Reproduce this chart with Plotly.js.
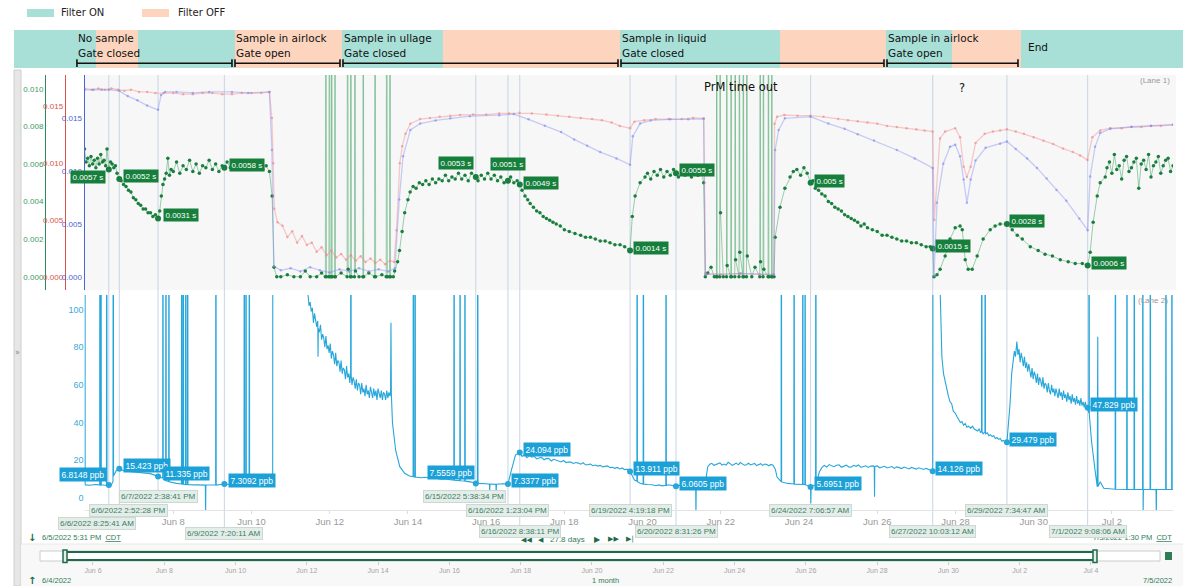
<!DOCTYPE html>
<html><head><meta charset="utf-8">
<script src="https://cdn.plot.ly/plotly-3.0.1.min.js"></script>
<style>html,body{margin:0;padding:0;background:#fff;overflow:hidden}#chart{width:1183px;height:586px}</style>
</head><body><div id="chart"></div>
<script>
// ---------------- DATA ----------------
const viewStart = '2022-06-05 17:31', viewEnd = '2022-07-03 13:30';
const bandRange = ['2022-06-03 22:15', '2022-07-03 19:38'];
const navRange = ['2022-06-04 12:19', '2022-07-05 22:28'];
const axisTicks = ['06-08','06-10','06-12','06-14','06-16','06-18','06-20','06-22','06-24','06-26','06-28','06-30','07-02'];

const filterStarts = ['06-03 22:15','06-06 00:34','06-07 02:20','06-09 13:52','06-12 07:31','06-14 21:30','06-19 10:08','06-23 12:19','06-26 05:21','06-27 21:52','06-29 16:12'];
const filterEnds   = ['06-06 00:34','06-07 02:20','06-09 13:52','06-12 07:31','06-14 21:30','06-19 10:08','06-23 12:19','06-26 05:21','06-27 21:52','06-29 16:12','07-03 19:38'];
const filterState  = ['ON','OFF','ON','OFF','ON','OFF','ON','OFF','ON','OFF','ON'];

const stageStarts = ['06-05 12:52','06-09 13:52','06-12 08:08','06-19 10:45','06-26 05:59'];
const stageEnds   = ['06-09 12:01','06-12 06:18','06-19 08:54','06-26 04:08','06-29 14:22'];
const stageLine1  = ['No sample','Sample in airlock','Sample in ullage','Sample in liquid','Sample in airlock'];
const stageLine2  = ['Gate closed','Gate open','Gate closed','Gate closed','Gate open'];
const endLabel = {t: '06-29 19:15', text: 'End'};

const cursorTimes = ['06-06 08:25:41','06-06 14:52:28','06-07 14:38:41','06-09 07:20:11','06-15 17:38:34','06-16 13:23:04','06-16 20:38:11','06-19 16:19:18','06-20 20:31:26','06-24 07:06:57','06-27 10:03:12','06-29 07:34:47','07-01 09:08:06'];
const cursorText  = ['6/6/2022 8:25:41 AM','6/6/2022 2:52:28 PM','6/7/2022 2:38:41 PM','6/9/2022 7:20:11 AM','6/15/2022 5:38:34 PM','6/16/2022 1:23:04 PM','6/16/2022 8:38:11 PM','6/19/2022 4:19:18 PM','6/20/2022 8:31:26 PM','6/24/2022 7:06:57 AM','6/27/2022 10:03:12 AM','6/29/2022 7:34:47 AM','7/1/2022 9:08:06 AM'];
const tauAtCursor = [0.0057,0.0052,0.0031,0.0058,0.0053,0.0051,0.0049,0.0014,0.0055,0.005,0.0015,0.0028,0.0006];
const ppbAtCursor = [6.8148,15.423,11.335,7.3092,7.5559,7.3377,24.094,13.911,6.0605,5.6951,14.126,29.479,47.829];

// Lane 1 – green (electron lifetime, s)
const tauSeries = [
['06-05 17:31',0.0068],['06-05 18:30',0.0061],['06-05 19:30',0.0063],['06-05 20:30',0.0059],['06-05 21:30',0.0064],['06-05 22:30',0.0060],['06-05 23:30',0.0062],['06-06 00:30',0.0058],['06-06 01:30',0.0063],['06-06 02:30',0.0060],['06-06 03:30',0.0065],['06-06 04:30',0.0061],['06-06 05:30',0.0062],['06-06 06:30',0.0059],['06-06 07:20',0.0068],['06-06 08:25:41',0.0057],['06-06 09:30',0.0061],['06-06 10:30',0.0060],['06-06 11:30',0.0058],['06-06 12:30',0.0059],['06-06 13:30',0.0055],['06-06 14:52:28',0.0052],
['06-06 16:00',0.0051],['06-06 17:30',0.0049],['06-06 19:00',0.0048],['06-06 20:30',0.0046],['06-06 22:00',0.0045],['06-06 23:30',0.0042],['06-07 01:00',0.0041],['06-07 02:30',0.0039],['06-07 04:00',0.0038],['06-07 05:30',0.0036],['06-07 07:00',0.0036],['06-07 08:30',0.0034],['06-07 10:00',0.0034],['06-07 11:30',0.0032],['06-07 13:00',0.0033],['06-07 14:38:41',0.0031],
['06-07 15:40',0.0035],['06-07 16:40',0.0043],['06-07 17:40',0.0049],['06-07 18:40',0.0052],['06-07 19:40',0.0055],['06-07 20:40',0.0063],['06-07 21:40',0.0054],['06-07 22:40',0.0057],
['06-08 00:00',0.0056],['06-08 02:00',0.0061],['06-08 04:00',0.0055],['06-08 06:00',0.0059],['06-08 08:00',0.0057],['06-08 10:00',0.0062],['06-08 12:00',0.0056],['06-08 14:00',0.0060],['06-08 16:00',0.0055],['06-08 18:00',0.0059],['06-08 20:00',0.0058],['06-08 22:00',0.0062],['06-09 00:00',0.0057],['06-09 02:00',0.0060],['06-09 04:00',0.0056],['06-09 06:00',0.0059],['06-09 07:20:11',0.0058],['06-09 09:00',0.0061],['06-09 11:00',0.0058],['06-09 13:00',0.0061],['06-09 15:00',0.0057],['06-09 17:00',0.0060],['06-09 19:00',0.0058],['06-09 21:00',0.0061],['06-09 23:00',0.0057],['06-10 01:00',0.0060],['06-10 03:00',0.0058],['06-10 05:00',0.0061],['06-10 07:00',0.0057],['06-10 09:00',0.0059],['06-10 11:00',0.0056],
['06-10 12:40',0.0043],['06-10 13:50',0.0005],['06-10 15:30',0.0000],
['06-10 18:00',0.0000],['06-10 22:00',0.0001],['06-11 02:00',0.0000],['06-11 06:00',0.0000],['06-11 09:00',0.0003],['06-11 12:00',0.0000],['06-11 16:00',0.0000],['06-11 19:00',0.0002],
['06-11 21:20',0.0000],['06-11 21:40',0.03],['06-11 22:00',0.0000],['06-11 23:30',0.0000],['06-11 23:50',0.03],['06-12 00:10',0.0000],['06-12 01:00',0.0000],['06-12 01:15',0.03],['06-12 01:30',0.0000],['06-12 03:00',0.0000],['06-12 03:15',0.03],['06-12 03:30',0.0000],['06-12 07:00',0.0002],['06-12 10:40',0.0000],['06-12 11:00',0.03],['06-12 11:20',0.0004],['06-12 12:40',0.0000],['06-12 13:00',0.03],['06-12 13:20',0.0000],['06-12 15:10',0.0000],['06-12 15:30',0.03],['06-12 15:50',0.0003],['06-12 18:00',0.0000],['06-12 20:20',0.0000],['06-12 20:35',0.03],['06-12 20:50',0.0000],['06-13 00:00',0.0002],['06-13 03:30',0.0000],['06-13 03:50',0.03],['06-13 04:10',0.0000],['06-13 08:00',0.0001],['06-13 10:40',0.0000],['06-13 11:00',0.03],['06-13 11:20',0.0000],['06-13 12:40',0.0000],['06-13 13:00',0.03],['06-13 13:20',0.0000],['06-13 15:00',0.0000],
['06-13 15:50',0.0003],['06-13 17:40',0.0008],['06-13 18:50',0.0014],['06-13 20:25',0.0024],['06-13 22:00',0.0034],['06-14 00:00',0.0041],['06-14 01:20',0.0045],['06-14 03:10',0.0048],['06-14 05:00',0.0047],['06-14 07:00',0.0050],['06-14 09:00',0.0049],['06-14 11:00',0.0051],['06-14 13:00',0.0049],['06-14 15:00',0.0052],['06-14 17:00',0.0050],['06-14 19:00',0.0052],['06-14 21:00',0.0051],['06-14 23:00',0.0054],['06-15 01:00',0.0051],['06-15 03:00',0.0053],['06-15 05:00',0.0052],['06-15 07:00',0.0055],['06-15 09:00',0.0052],['06-15 11:00',0.0054],['06-15 13:00',0.0051],['06-15 15:00',0.0055],['06-15 17:38:34',0.0053],['06-15 19:00',0.0051],['06-15 21:00',0.0054],['06-15 23:00',0.0052],['06-16 01:00',0.0055],['06-16 03:00',0.0052],['06-16 05:00',0.0054],['06-16 07:00',0.0051],['06-16 09:00',0.0053],['06-16 11:00',0.0050],['06-16 13:23:04',0.0051],['06-16 15:00',0.0053],['06-16 17:00',0.0050],['06-16 19:00',0.0051],['06-16 20:38:11',0.0049],
['06-16 22:00',0.0046],['06-16 23:50',0.0043],['06-17 01:30',0.0041],['06-17 03:00',0.0039],['06-17 05:00',0.0037],['06-17 07:00',0.0035],['06-17 09:00',0.0034],['06-17 11:00',0.0032],['06-17 13:00',0.0031],['06-17 15:00',0.0030],['06-17 17:00',0.0029],['06-17 19:00',0.0028],['06-17 21:30',0.0027],['06-18 00:00',0.0025],['06-18 03:00',0.0024],['06-18 06:30',0.0023],['06-18 10:00',0.0022],['06-18 13:00',0.0021],['06-18 16:00',0.0021],['06-18 19:00',0.0020],['06-18 22:00',0.0019],['06-19 01:00',0.0019],['06-19 04:00',0.0018],['06-19 07:00',0.0017],['06-19 10:10',0.0017],['06-19 13:00',0.0016],['06-19 16:19:18',0.0014],
['06-19 17:40',0.0032],['06-19 19:25',0.0043],['06-19 22:30',0.0050],['06-20 01:30',0.0053],['06-20 03:00',0.0055],['06-20 05:00',0.0052],['06-20 07:00',0.0056],['06-20 09:00',0.0054],['06-20 11:00',0.0057],['06-20 13:00',0.0053],['06-20 15:00',0.0056],['06-20 17:00',0.0054],['06-20 19:00',0.0057],['06-20 20:31:26',0.0055],['06-20 22:00',0.0053],['06-21 00:00',0.0056],['06-21 02:00',0.0054],['06-21 04:00',0.0057],['06-21 06:00',0.0053],['06-21 08:00',0.0055],['06-21 10:00',0.0054],['06-21 12:00',0.0056],['06-21 13:30',0.0050],['06-21 14:30',0.0000],
['06-21 16:00',0.0002],['06-21 18:00',0.0005],['06-21 20:00',0.0000],['06-21 21:20',0.0000],['06-21 21:30',0.03],['06-21 21:45',0.0000],['06-21 23:20',0.0000],['06-21 23:35',0.03],['06-21 23:50',0.0034],['06-22 01:30',0.0000],['06-22 03:30',0.0000],['06-22 03:40',0.03],['06-22 03:55',0.0006],['06-22 06:05',0.0000],['06-22 06:20',0.03],['06-22 06:35',0.0000],['06-22 08:35',0.0000],['06-22 08:50',0.03],['06-22 09:05',0.0009],['06-22 11:10',0.0000],['06-22 11:25',0.03],['06-22 11:40',0.0013],['06-22 13:35',0.0000],['06-22 13:50',0.03],['06-22 14:05',0.0000],['06-22 15:45',0.0000],['06-22 16:00',0.03],['06-22 16:15',0.0011],['06-22 19:00',0.0000],['06-22 21:00',0.0005],['06-22 23:55',0.0000],['06-23 00:10',0.03],['06-23 00:25',0.0008],['06-23 01:55',0.0000],['06-23 02:10',0.03],['06-23 02:25',0.0004],['06-23 05:00',0.0000],['06-23 05:15',0.03],['06-23 05:30',0.0000],['06-23 07:05',0.0000],['06-23 07:20',0.03],['06-23 07:35',0.0000],['06-23 08:40',0.0000],
['06-23 09:20',0.0021],['06-23 12:20',0.0037],['06-23 15:20',0.0047],['06-23 18:30',0.0053],['06-23 20:30',0.0056],['06-23 22:40',0.0057],['06-24 01:00',0.0054],['06-24 03:00',0.0058],['06-24 05:00',0.0055],['06-24 07:06:57',0.0050],['06-24 08:30',0.0051],['06-24 10:00',0.0047],
['06-24 12:00',0.0046],['06-24 14:00',0.0044],['06-24 16:00',0.0043],['06-24 18:00',0.0040],['06-24 20:00',0.0039],['06-24 22:00',0.0037],['06-25 00:00',0.0036],['06-25 02:00',0.0035],['06-25 04:00',0.0033],['06-25 06:00',0.0032],['06-25 08:00',0.0031],['06-25 10:00',0.0030],['06-25 12:00',0.0029],['06-25 14:00',0.0027],['06-25 16:00',0.0028],['06-25 18:00',0.0026],['06-25 21:00',0.0025],['06-26 00:00',0.0024],['06-26 03:00',0.0022],['06-26 06:00',0.0022],['06-26 09:00',0.0021],['06-26 12:00',0.0020],['06-26 15:00',0.0019],['06-26 18:00',0.0019],['06-26 21:00',0.0018],['06-27 00:00',0.0018],['06-27 03:00',0.0017],['06-27 06:00',0.0016],['06-27 08:30',0.0016],['06-27 10:03:12',0.0015],
['06-27 10:50',0.0000],['06-27 12:40',0.0001],['06-27 14:35',0.0004],['06-27 17:40',0.0011],['06-27 20:40',0.0020],['06-27 23:50',0.0026],['06-28 02:50',0.0027],['06-28 04:10',0.0025],['06-28 05:00',0.0018],['06-28 06:00',0.0009],['06-28 07:50',0.0004],['06-28 10:15',0.0004],['06-28 13:20',0.0011],['06-28 17:00',0.0020],['06-28 21:20',0.0025],['06-29 00:20',0.0027],['06-29 03:25',0.0028],['06-29 07:34:47',0.0028],['06-29 10:50',0.0025],['06-29 13:55',0.0022],['06-29 17:00',0.0020],['06-29 21:55',0.0016],['06-30 02:45',0.0014],['06-30 07:00',0.0012],['06-30 11:30',0.0011],['06-30 16:20',0.0009],['06-30 21:10',0.0008],['07-01 01:30',0.0007],['07-01 05:50',0.0007],['07-01 09:08:06',0.0006],
['07-01 10:40',0.0013],['07-01 12:30',0.0029],['07-01 15:00',0.0043],['07-01 16:50',0.0050],['07-01 19:55',0.0053],['07-01 21:00',0.0058],['07-01 22:30',0.0061],['07-02 00:00',0.0055],['07-02 01:30',0.0065],['07-02 03:00',0.0057],['07-02 04:30',0.0059],['07-02 06:00',0.0052],['07-02 07:30',0.0062],['07-02 09:00',0.0064],['07-02 10:30',0.0056],['07-02 12:00',0.0058],['07-02 13:30',0.0061],['07-02 15:00',0.0063],['07-02 16:30',0.0047],['07-02 18:00',0.0060],['07-02 19:30',0.0062],['07-02 21:00',0.0057],['07-02 22:30',0.0065],['07-03 00:00',0.0053],['07-03 01:30',0.0059],['07-03 03:00',0.0061],['07-03 04:30',0.0064],['07-03 06:00',0.0055],['07-03 07:30',0.0059],['07-03 09:00',0.0062],['07-03 10:30',0.0063],['07-03 12:00',0.0056],['07-03 13:30',0.0059]
];

// Lane 1 – red signal
const redSeries = [
['06-05 17:31',0.0166],['06-05 22:00',0.0165],['06-06 02:00',0.0166],['06-06 06:00',0.0165],['06-06 10:00',0.0166],['06-06 14:00',0.0165],['06-06 18:00',0.0164],['06-06 22:00',0.0165],['06-07 03:00',0.0163],['06-07 08:00',0.0163],['06-07 13:00',0.0162],['06-07 18:00',0.0162],['06-08 00:00',0.0162],['06-08 06:00',0.0161],['06-08 12:00',0.0161],['06-08 18:00',0.0162],['06-09 00:00',0.0162],['06-09 06:00',0.0161],['06-09 12:00',0.0161],['06-09 18:00',0.0162],['06-10 00:00',0.0162],['06-10 06:00',0.0162],['06-10 11:00',0.0163],
['06-10 12:30',0.0140],['06-10 13:20',0.0100],['06-10 14:00',0.0060],['06-10 16:00',0.0048],['06-10 19:00',0.0045],['06-10 22:00',0.0035],['06-11 01:00',0.0040],['06-11 04:00',0.0030],['06-11 07:00',0.0036],['06-11 10:00',0.0028],['06-11 13:00',0.0030],['06-11 16:00',0.0022],['06-11 19:00',0.0026],['06-11 22:00',0.0019],['06-12 01:00',0.0023],['06-12 04:00',0.0017],['06-12 07:00',0.0020],['06-12 10:00',0.0015],['06-12 13:00',0.0019],['06-12 16:00',0.0014],['06-12 19:00',0.0018],['06-12 22:00',0.0013],['06-13 01:00',0.0016],['06-13 04:00',0.0012],['06-13 07:00',0.0015],['06-13 10:00',0.0011],['06-13 13:00',0.0014],['06-13 15:30',0.0013],
['06-13 17:00',0.0041],['06-13 19:00',0.0100],['06-13 20:30',0.0115],['06-13 22:30',0.0126],['06-14 01:30',0.0135],['06-14 07:30',0.0139],['06-14 13:30',0.0140],['06-14 19:30',0.0141],['06-15 02:00',0.0142],['06-15 08:00',0.01426],['06-15 16:00',0.0143],['06-16 00:00',0.0143],['06-16 08:00',0.0144],['06-16 14:00',0.0144],['06-16 20:30',0.01446],['06-17 04:00',0.0144],['06-17 13:00',0.0143],['06-17 20:00',0.0142],['06-18 03:00',0.0141],['06-18 10:00',0.0140],['06-18 17:00',0.0139],['06-18 23:00',0.0138],['06-19 05:00',0.0136],['06-19 10:00',0.0133],['06-19 16:19',0.0131],['06-19 19:00',0.01367],['06-20 01:00',0.0138],['06-20 08:00',0.0139],['06-20 16:00',0.0139],['06-21 00:00',0.0139],['06-21 07:00',0.0140],['06-21 13:30',0.01397],
['06-21 14:30',0.0003],['06-22 00:00',0.0002],['06-22 12:00',0.0003],['06-23 00:00',0.0002],['06-23 08:30',0.0002],
['06-23 09:00',0.0135],['06-23 10:30',0.0141],['06-23 15:00',0.01426],['06-23 23:00',0.0142],['06-24 07:00',0.0142],['06-24 15:00',0.0141],['06-25 00:00',0.0139],['06-25 06:00',0.0138],['06-25 12:00',0.0137],['06-25 18:00',0.0136],['06-26 00:00',0.0135],['06-26 06:00',0.0133],['06-26 12:00',0.0132],['06-26 18:00',0.0131],['06-27 00:00',0.0130],['06-27 05:00',0.0129],['06-27 10:00',0.0128],
['06-27 11:00',0.0050],['06-27 14:30',0.0122],['06-27 17:40',0.0128],['06-27 23:50',0.0131],['06-28 02:50',0.0123],['06-28 05:00',0.0097],['06-28 07:00',0.0088],['06-28 09:20',0.0097],['06-28 12:20',0.0118],['06-28 18:00',0.0126],['06-28 23:00',0.0128],['06-29 03:25',0.0129],['06-29 07:34',0.0130],['06-29 13:00',0.0128],['06-29 18:00',0.0126],['06-30 00:00',0.0123],['06-30 06:00',0.0120],['06-30 12:00',0.0117],['06-30 18:00',0.0113],['07-01 00:00',0.0110],['07-01 04:30',0.0107],['07-01 09:00',0.0103],
['07-01 12:00',0.0123],['07-01 16:50',0.0129],['07-01 23:00',0.0131],['07-02 06:00',0.0131],['07-02 12:00',0.0132],['07-02 18:00',0.0132],['07-03 00:00',0.0133],['07-03 06:00',0.0133],['07-03 13:30',0.0134]
];

// Lane 1 – blue signal
const blueSeries = [
['06-05 17:31',0.0177],['06-05 23:00',0.0177],['06-06 04:00',0.0177],['06-06 08:25',0.0177],['06-06 14:52',0.0176],['06-06 20:00',0.0171],['06-07 02:00',0.0167],['06-07 08:00',0.0162],['06-07 14:38',0.0158],['06-07 16:30',0.0172],['06-07 19:00',0.0175],['06-08 02:00',0.0175],['06-08 12:00',0.0174],['06-08 22:00',0.0175],['06-09 12:00',0.0175],['06-09 22:00',0.0174],['06-10 11:00',0.0175],
['06-10 12:30',0.0120],['06-10 13:40',0.0010],['06-10 18:00',0.0006],['06-11 00:00',0.0008],['06-11 06:00',0.0005],['06-11 12:00',0.0009],['06-11 18:00',0.0006],['06-12 00:00',0.0004],['06-12 06:00',0.0007],['06-12 12:00',0.0005],['06-12 18:00',0.0008],['06-13 00:00',0.0005],['06-13 06:00',0.0007],['06-13 12:00',0.0005],['06-13 16:00',0.0008],
['06-13 18:40',0.0073],['06-13 21:00',0.0114],['06-14 01:30',0.0139],['06-14 07:30',0.0145],['06-14 17:00',0.0148],['06-15 02:00',0.0150],['06-15 14:00',0.0152],['06-16 08:00',0.0153],['06-16 17:00',0.0154],['06-17 02:00',0.0149],['06-17 12:00',0.0143],['06-17 22:00',0.0137],['06-18 06:00',0.0130],['06-18 14:00',0.0124],['06-18 22:00',0.0118],['06-19 08:00',0.0112],['06-19 16:19',0.0106],
['06-19 18:00',0.0133],['06-19 22:30',0.0145],['06-20 05:00',0.0148],['06-20 17:00',0.0149],['06-21 04:00',0.0149],['06-21 13:30',0.01495],
['06-21 14:30',0.0002],['06-22 12:00',0.0003],['06-23 08:30',0.0002],
['06-23 09:20',0.0120],['06-23 11:30',0.0139],['06-23 15:20',0.0150],['06-24 07:06',0.01515],['06-24 18:00',0.0145],['06-25 04:00',0.0140],['06-25 12:00',0.0135],['06-25 22:00',0.0129],['06-26 12:00',0.0120],['06-26 23:00',0.0112],['06-27 10:00',0.0103],
['06-27 10:50',0.0001],['06-27 12:40',0.0070],['06-27 16:30',0.0107],['06-27 20:40',0.0123],['06-27 23:50',0.0125],['06-28 02:50',0.0114],['06-28 05:00',0.0092],['06-28 07:00',0.0070],['06-28 09:20',0.0092],['06-28 12:20',0.0110],['06-28 18:30',0.0122],['06-29 03:25',0.0126],['06-29 07:34',0.0128],['06-29 13:00',0.0121],['06-29 20:00',0.0112],['06-30 02:00',0.0103],['06-30 08:00',0.0093],['06-30 14:00',0.0082],['06-30 20:00',0.0072],['07-01 04:00',0.0055],['07-01 09:08',0.0044],
['07-01 10:40',0.0095],['07-01 13:40',0.0123],['07-01 16:50',0.0136],['07-01 23:00',0.0140],['07-02 12:00',0.0142],['07-03 00:00',0.0143],['07-03 13:30',0.0144]
];

// Lane 2 – impurity concentration (ppb); 300 / -10 are off-scale readings
const ppbSeries = [
['06-05 17:31',6.9],['06-05 17:45',6.9],['06-05 17:50',300],['06-05 17:55',6.8],['06-05 21:00',6.6],['06-06 00:00',7.0],['06-06 02:50',6.8],['06-06 03:00',300],['06-06 03:10',6.7],['06-06 03:30',6.7],['06-06 03:40',300],['06-06 03:50',6.9],['06-06 07:00',6.5],['06-06 07:10',300],['06-06 07:20',6.6],['06-06 08:25:41',6.8148],['06-06 09:30',6.0],['06-06 11:00',8.5],['06-06 11:10',300],['06-06 11:20',11.5],['06-06 13:00',14.5],['06-06 14:52:28',15.423],['06-06 18:00',14.2],['06-06 22:00',13.8],['06-07 04:00',13.2],['06-07 10:00',12.8],['06-07 14:38:41',11.335],['06-07 17:30',10.5],['06-07 17:40',300],['06-07 17:50',9.8],['06-07 19:20',9.2],['06-07 19:30',300],['06-07 19:40',9.0],['06-07 21:10',8.6],['06-07 21:20',300],['06-07 21:30',8.4],['06-08 02:00',7.6],['06-08 05:00',7.3],['06-08 05:10',300],['06-08 05:20',7.2],['06-08 06:00',7.2],['06-08 06:10',300],['06-08 06:20',7.1],['06-08 07:30',7.0],['06-08 07:40',300],['06-08 07:50',7.0],['06-08 08:40',7.1],['06-08 08:50',300],['06-08 09:00',6.9],['06-08 14:00',6.8],['06-08 19:40',6.7],['06-08 19:50',-10],['06-08 20:00',6.8],['06-09 02:00',6.9],['06-09 02:10',300],['06-09 02:20',6.7],['06-09 07:20:11',7.3092],['06-09 12:00',6.9],['06-09 19:25',6.8],['06-09 19:35',300],['06-09 19:45',6.7],['06-09 20:30',6.9],['06-09 20:40',300],['06-09 20:50',6.8],['06-09 22:30',6.6],['06-09 22:40',300],['06-09 22:50',6.8],['06-10 05:00',6.9],['06-10 13:00',6.8],['06-10 13:10',300],['06-11 10:00',300],
['06-11 10:40',108],['06-11 11:20',102],['06-11 12:00',104],['06-11 12:40',99],['06-11 13:20',101],['06-11 14:00',93],['06-11 14:40',98],['06-11 15:20',95],['06-11 16:00',91],['06-11 16:40',94],['06-11 16:50',75],['06-11 17:00',90],['06-11 17:40',88],['06-11 18:20',92],['06-11 19:00',84],['06-11 19:40',87],['06-11 20:20',85],['06-11 21:00',80],['06-11 21:40',86],['06-11 22:20',79],['06-11 23:00',81],['06-11 23:40',77],['06-12 00:20',82],['06-12 01:00',74],['06-12 01:40',78],['06-12 02:20',76],['06-12 03:00',71],['06-12 03:40',77],['06-12 04:20',70],['06-12 05:00',73],['06-12 05:40',72],['06-12 06:20',67],['06-12 07:00',73],['06-12 07:40',66],['06-12 08:20',69],['06-12 09:00',68],['06-12 09:40',63],['06-12 10:20',70],['06-12 11:00',64],['06-12 11:40',66],['06-12 12:20',61],['06-12 12:50',67],['06-12 13:00',300],['06-12 13:10',65],['06-12 13:40',60],['06-12 14:20',64],['06-12 15:00',62],['06-12 15:40',58],['06-12 16:20',63],['06-12 17:00',57],['06-12 17:40',61],['06-12 18:20',60],['06-12 19:00',55],['06-12 19:40',61],['06-12 20:20',56],['06-12 21:00',58],['06-12 21:40',54],['06-12 22:20',60],['06-12 23:00',55],['06-12 23:40',57],['06-13 00:20',53],['06-13 01:00',59],['06-13 01:40',56],['06-13 02:20',53],['06-13 03:00',58],['06-13 03:40',54],['06-13 04:20',57],['06-13 05:00',52],['06-13 05:40',58],['06-13 06:20',55],['06-13 07:00',53],['06-13 07:40',57],['06-13 08:20',52],['06-13 09:00',56],['06-13 09:40',55],['06-13 10:20',52],['06-13 11:00',57],['06-13 11:40',53],['06-13 12:20',56],['06-13 13:00',54],['06-13 13:20',56],['06-13 13:35',93],['06-13 13:50',55],
['06-13 14:30',40],['06-13 16:30',25],['06-13 19:00',16.5],['06-13 22:00',13],['06-14 01:00',11.5],['06-14 03:10',11.2],['06-14 03:20',300],['06-14 03:30',11.1],['06-14 04:15',11.0],['06-14 04:25',300],['06-14 04:35',11.0],['06-14 08:00',10.6],['06-14 11:00',10.9],['06-14 14:00',10.2],['06-14 17:00',10.4],['06-14 20:00',9.8],['06-14 23:00',10.0],['06-15 02:00',9.6],['06-15 04:10',9.4],['06-15 04:20',300],['06-15 04:30',9.3],['06-15 07:50',9.1],['06-15 08:00',300],['06-15 08:10',9.0],['06-15 10:50',8.9],['06-15 11:00',300],['06-15 11:10',8.8],['06-15 15:00',8.3],['06-15 17:38:34',7.5559],['06-15 18:40',7.8],['06-15 18:50',300],['06-15 19:00',7.6],['06-16 00:00',7.4],['06-16 02:00',7.2],['06-16 02:10',3.5],['06-16 02:20',7.3],['06-16 06:00',7.1],['06-16 06:10',2.0],['06-16 06:20',7.2],['06-16 10:00',7.4],['06-16 13:23:04',7.3377],
['06-16 15:30',14.7],['06-16 18:00',22.7],['06-16 20:38:11',24.094],['06-16 22:00',22.0],['06-16 23:30',23.0],['06-17 01:00',21.3],['06-17 02:30',22.4],['06-17 04:00',21.6],['06-17 05:30',22.0],['06-17 07:00',20.6],['06-17 08:30',21.1],['06-17 10:00',21.4],['06-17 11:30',20.2],['06-17 13:00',20.9],['06-17 14:30',20.8],['06-17 16:00',19.5],['06-17 17:30',20.4],['06-17 19:00',19.9],['06-17 20:30',19.3],['06-17 22:00',19.0],['06-17 23:30',19.8],['06-18 01:00',18.7],['06-18 02:30',19.0],['06-18 04:00',18.9],['06-18 05:30',18.2],['06-18 07:00',18.7],['06-18 08:30',18.4],['06-18 10:00',17.8],['06-18 11:30',18.6],['06-18 13:00',17.5],['06-18 14:30',17.6],['06-18 16:00',17.9],['06-18 17:30',17.0],['06-18 19:00',17.4],['06-18 20:30',16.8],['06-18 22:00',17.2],['06-18 23:30',16.4],['06-19 01:00',16.6],['06-19 02:30',16.9],['06-19 04:00',16.0],['06-19 05:30',16.2],['06-19 07:00',15.6],['06-19 08:30',16.1],['06-19 10:00',15.3],['06-19 11:30',15.8],['06-19 13:00',14.9],['06-19 14:30',15.2],['06-19 16:19:18',13.911],
['06-19 19:00',9.4],['06-19 20:30',8.8],['06-19 20:40',300],['06-19 20:50',8.5],['06-19 22:30',7.7],['06-20 00:20',7.3],['06-20 00:30',300],['06-20 00:40',7.2],['06-20 03:00',7.0],['06-20 06:00',6.9],['06-20 08:00',6.4],['06-20 10:00',6.8],['06-20 12:00',6.3],['06-20 14:15',6.6],['06-20 14:25',300],['06-20 14:35',6.5],['06-20 16:00',6.9],['06-20 18:00',6.4],['06-20 20:31:26',6.0605],['06-20 23:00',6.7],['06-21 02:00',6.4],['06-21 05:00',6.8],['06-21 08:00',6.6],['06-21 08:35',6.5],['06-21 08:45',-10],['06-21 08:55',6.5],['06-21 11:00',6.9],['06-21 13:00',6.7],
['06-21 14:20',7.0],['06-21 16:00',16.5],['06-21 17:15',17.8],['06-21 18:30',18.3],['06-21 19:45',17.2],['06-21 21:00',17.6],['06-21 22:15',18.4],['06-21 23:30',18.5],['06-22 00:45',17.3],['06-22 02:00',17.9],['06-22 03:15',17.4],['06-22 04:30',18.8],['06-22 05:45',18.1],['06-22 07:00',17.2],['06-22 08:15',17.8],['06-22 09:30',18.4],['06-22 10:45',17.5],['06-22 12:00',18.7],['06-22 13:15',18.0],['06-22 14:30',17.3],['06-22 15:45',17.5],['06-22 17:00',18.3],['06-22 18:15',17.4],['06-22 19:30',17.8],['06-22 20:45',18.2],['06-22 22:00',17.1],['06-22 23:15',17.6],['06-23 00:30',18.1],['06-23 01:45',17.2],['06-23 03:00',17.9],['06-23 04:15',17.6],['06-23 05:30',17.0],['06-23 06:45',17.7],['06-23 08:00',17.3],['06-23 09:30',15.0],['06-23 10:30',11.0],
['06-23 13:00',8.6],['06-23 13:10',300],['06-23 13:20',8.4],['06-23 17:00',7.6],['06-23 20:50',7.3],['06-23 21:00',300],['06-23 21:10',7.2],['06-24 02:10',7.0],['06-24 02:20',300],['06-24 02:30',7.0],['06-24 03:35',7.0],['06-24 03:45',300],['06-24 03:55',6.9],['06-24 06:30',5.8],['06-24 07:06:57',5.6951],['06-24 07:15',-3],['06-24 07:25',6.2],['06-24 10:10',6.8],['06-24 10:20',300],['06-24 10:30',7.0],
['06-24 12:30',13.8],['06-24 14:00',16.0],['06-24 15:30',17.2],['06-24 17:00',16.3],['06-24 18:30',17.6],['06-24 20:00',16.9],['06-24 21:30',16.5],['06-24 23:00',17.3],['06-25 00:30',17.5],['06-25 02:00',16.2],['06-25 03:30',16.8],['06-25 05:00',17.3],['06-25 06:30',16.4],['06-25 08:00',16.2],['06-25 09:30',17.2],['06-25 11:00',16.7],['06-25 12:30',17.4],['06-25 14:00',16.1],['06-25 15:30',16.6],['06-25 17:00',17.0],['06-25 18:30',16.1],['06-25 20:00',16.8],['06-25 21:30',16.9],['06-25 22:10',16.5],['06-25 22:20',0.5],['06-25 22:30',16.6],['06-26 00:00',16.9],['06-26 01:30',15.9],['06-26 03:00',16.3],['06-26 04:30',16.7],['06-26 06:00',15.8],['06-26 07:30',16.2],['06-26 09:00',16.6],['06-26 10:30',15.6],['06-26 12:00',16.4],['06-26 13:30',16.0],['06-26 15:00',15.5],['06-26 16:30',16.3],['06-26 18:00',15.9],['06-26 19:30',15.3],['06-26 21:00',16.1],['06-26 22:30',15.6],['06-27 00:00',15.2],['06-27 01:30',15.9],['06-27 03:00',15.4],['06-27 04:30',15.0],['06-27 06:00',15.6],['06-27 08:00',14.8],['06-27 10:03:12',14.126],
['06-27 10:20',300],['06-27 14:00',300],['06-27 14:40',108],['06-27 15:10',85],['06-27 15:40',75],['06-27 16:40',66],['06-27 17:40',62],['06-27 18:40',57],['06-27 19:40',54],['06-27 20:40',51],['06-27 21:40',50],['06-27 22:40',46],['06-27 23:50',45],['06-28 01:00',43],['06-28 02:00',41.5],['06-28 03:00',40],['06-28 04:00',40.5],['06-28 05:00',38.5],['06-28 06:00',39.5],['06-28 07:00',37.5],['06-28 08:00',38],['06-28 09:20',37],['06-28 10:30',38],['06-28 11:30',36.5],['06-28 12:30',36],['06-28 13:30',35.5],['06-28 14:30',36.5],['06-28 15:30',34.5],['06-28 16:00',35.5],['06-28 16:10',300],['06-28 16:20',35],['06-28 17:00',34],['06-28 18:05',35],['06-28 18:15',300],['06-28 18:25',34],['06-28 19:30',34.5],['06-28 20:30',33],['06-28 21:30',33.5],['06-28 22:30',32.5],['06-28 23:30',33],['06-29 00:30',31.5],['06-29 01:30',32],['06-29 02:30',31],['06-29 03:30',31.5],['06-29 04:30',30],['06-29 05:30',30.5],['06-29 06:30',29.5],['06-29 07:34:47',29.479],
['06-29 09:30',50],['06-29 10:30',66],['06-29 11:30',73],['06-29 12:10',78],['06-29 12:50',75],['06-29 13:40',83],['06-29 14:20',76],['06-29 15:00',79],['06-29 15:40',72],['06-29 16:20',77],['06-29 17:00',74],['06-29 17:40',70],['06-29 18:20',75],['06-29 19:00',69],['06-29 19:40',72],['06-29 20:20',67],['06-29 21:00',71],['06-29 21:40',68],['06-29 22:20',64],['06-29 23:00',69],['06-29 23:40',63],['06-30 00:20',67],['06-30 01:00',65],['06-30 01:40',61],['06-30 02:20',66],['06-30 03:00',60],['06-30 03:40',64],['06-30 04:20',62],['06-30 05:00',59],['06-30 05:40',64],['06-30 06:20',58],['06-30 07:00',61],['06-30 07:40',60],['06-30 08:20',56],['06-30 09:00',61],['06-30 09:40',57],['06-30 10:20',55],['06-30 11:00',60],['06-30 11:40',56],['06-30 12:20',58],['06-30 13:00',54],['06-30 13:40',58],['06-30 14:20',55],['06-30 15:00',53],['06-30 15:40',58],['06-30 16:20',54],['06-30 17:00',56],['06-30 17:40',52],['06-30 18:20',57],['06-30 19:00',53],['06-30 19:40',55],['06-30 20:20',51],['06-30 21:00',56],['06-30 21:40',52],['06-30 22:20',54],['06-30 23:00',50],['06-30 23:40',55],['07-01 00:20',51],['07-01 01:00',53],['07-01 01:40',49.5],['07-01 02:20',54],['07-01 03:00',50],['07-01 03:40',52],['07-01 04:20',49],['07-01 05:00',53],['07-01 05:40',49],['07-01 06:20',51],['07-01 07:00',48],['07-01 07:40',51],['07-01 08:20',48.5],['07-01 09:08:06',47.829],
['07-01 09:50',45],['07-01 10:00',300],['07-01 10:10',44],['07-01 11:30',30],['07-01 12:30',21.8],['07-01 13:40',14.7],['07-01 15:00',5.9],['07-01 15:20',85.6],['07-01 15:30',6.0],['07-01 16:50',8.5],['07-01 19:00',5.0],['07-01 23:00',4.5],['07-02 02:00',4.5],['07-02 02:10',300],['07-02 02:20',4.5],['07-02 09:05',4.4],['07-02 09:15',300],['07-02 09:25',4.5],['07-02 13:35',4.4],['07-02 13:45',300],['07-02 13:55',4.4],['07-02 18:50',4.4],['07-02 19:00',300],['07-02 19:10',-10],['07-02 19:20',4.4],['07-02 23:25',4.4],['07-02 23:35',300],['07-02 23:45',4.4],['07-03 03:05',4.3],['07-03 03:15',-10],['07-03 03:25',4.4],['07-03 09:00',4.4],['07-03 09:10',300],['07-03 09:20',4.4],['07-03 12:40',4.4],['07-03 12:50',300],['07-03 13:00',4.4],['07-03 13:30',4.4]
];

const tauTicks = [0, 0.002, 0.004, 0.006, 0.008, 0.010];
const sigTicks = [0, 0.005, 0.010, 0.015];
const ppbTicks = [0, 20, 40, 60, 80, 100];

// ---------------- LAYOUT HELPERS ----------------
const W = 1183, H = 586;
const px = v => v / W, py = v => 1 - v / H;
const T = s => '2022-' + s;
const xs = a => a.map(p => T(p[0])), ys = a => a.map(p => p[1]);
const LS = '"Liberation Sans", Arial, sans-serif';
const DJ = '"DejaVu Sans", sans-serif';
const TEAL = '#a8e0d8', PEACH = '#fdd5be';
const GREEN = '#1a7f3e', LBLUE = '#27a6da';

const traces = [
  {x: xs(redSeries), y: ys(redSeries), xaxis: 'x', yaxis: 'y2', mode: 'lines+markers', hoverinfo: 'skip',
   line: {color: 'rgba(242,130,130,0.4)', width: 1.3}, marker: {color: 'rgba(242,130,130,0.6)', size: 2.5}},
  {x: xs(blueSeries), y: ys(blueSeries), xaxis: 'x', yaxis: 'y3', mode: 'lines+markers', hoverinfo: 'skip',
   line: {color: 'rgba(125,135,240,0.4)', width: 1.3}, marker: {color: 'rgba(125,135,240,0.6)', size: 2.5}},
  {x: xs(tauSeries), y: ys(tauSeries), xaxis: 'x', yaxis: 'y', mode: 'lines+markers', hoverinfo: 'skip',
   line: {color: 'rgba(40,150,80,0.45)', width: 1}, marker: {color: GREEN, size: 3.5}},
  {x: cursorTimes.map(T), y: tauAtCursor, xaxis: 'x', yaxis: 'y', mode: 'markers', hoverinfo: 'skip',
   marker: {color: GREEN, size: 6}},
  {x: xs(ppbSeries), y: ys(ppbSeries), xaxis: 'x', yaxis: 'y4', mode: 'lines', hoverinfo: 'skip',
   line: {color: LBLUE, width: 1.1}},
  {x: cursorTimes.map(T), y: ppbAtCursor, xaxis: 'x', yaxis: 'y4', mode: 'markers', hoverinfo: 'skip',
   marker: {color: LBLUE, size: 6}},
  {x: bandRange, y: [0.5, 0.5], xaxis: 'x2', yaxis: 'y5', mode: 'markers', marker: {opacity: 0}, hoverinfo: 'skip'},
  {x: navRange, y: [0.5, 0.5], xaxis: 'x3', yaxis: 'y6', mode: 'markers', marker: {opacity: 0}, hoverinfo: 'skip'}
];

const shapes = [];
const ann = [];
const note = (x, y, text, o) => Object.assign({xref: 'paper', yref: 'paper', x: px(x), y: py(y), text: text,
  showarrow: false, xanchor: 'center', yanchor: 'middle'}, o || {});
// lane 1 background
shapes.push({type: 'rect', xref: 'paper', yref: 'paper', x0: px(84.5), x1: px(1176), y0: py(290), y1: py(75), fillcolor: '#f7f7f7', line: {width: 0}, layer: 'below'});
// left chrome strip
shapes.push({type: 'rect', xref: 'paper', yref: 'paper', x0: px(14), x1: px(21), y0: 0, y1: py(70), fillcolor: '#e6e6e6', line: {color: '#cfcfcf', width: 1}, layer: 'below'});
// bottom navigator area
shapes.push({type: 'rect', xref: 'paper', yref: 'paper', x0: px(21), x1: 1, y0: 0, y1: py(544), fillcolor: '#f8f8f8', line: {width: 0}, layer: 'below'});
shapes.push({type: 'line', xref: 'paper', yref: 'paper', x0: px(21), x1: 1, y0: py(544), y1: py(544), line: {color: '#e8e8e8', width: 1}, layer: 'below'});
// cursor lines
const cursorRow = [523, 510, 496, 533, 496, 510, 531, 510, 531, 510, 531, 510, 531];
const cursorDx  = [-12, 9, 0, 0, -11, 0, 0, 0, 0, 0, 0, 0, 0];
cursorTimes.forEach((t, i) => {
  shapes.push({type: 'line', xref: 'x', yref: 'paper', x0: T(t), x1: T(t), y0: py(75), y1: py(cursorRow[i] - 5), line: {color: '#c8d4e4', width: 1}, layer: 'below'});
});
// filter band
filterStarts.forEach((s, i) => {
  shapes.push({type: 'rect', xref: 'x2', yref: 'paper', x0: T(s), x1: T(filterEnds[i]), y0: py(68), y1: py(30),
    fillcolor: filterState[i] === 'ON' ? TEAL : PEACH, line: {width: 0}, layer: 'above'});
});
// stage brackets
const stageFont = {family: DJ, size: 10.5, color: '#111'};
stageStarts.forEach((s, i) => {
  const e = stageEnds[i];
  shapes.push({type: 'line', xref: 'x2', yref: 'paper', x0: T(s), x1: T(e), y0: py(63.3), y1: py(63.3), line: {color: '#111', width: 1.6}});
  shapes.push({type: 'line', xref: 'x2', yref: 'paper', x0: T(s), x1: T(s), y0: py(59.3), y1: py(67), line: {color: '#111', width: 1.6}});
  shapes.push({type: 'line', xref: 'x2', yref: 'paper', x0: T(e), x1: T(e), y0: py(59.3), y1: py(67), line: {color: '#111', width: 1.6}});
  ann.push({xref: 'x2', yref: 'paper', x: T(s), y: py(38), text: stageLine1[i], showarrow: false, xanchor: 'left', yanchor: 'middle', xshift: -1, font: stageFont});
  ann.push({xref: 'x2', yref: 'paper', x: T(s), y: py(53), text: stageLine2[i], showarrow: false, xanchor: 'left', yanchor: 'middle', xshift: -1, font: stageFont});
});
ann.push({xref: 'x2', yref: 'paper', x: T(endLabel.t), y: py(47), text: endLabel.text, showarrow: false, xanchor: 'left', yanchor: 'middle', font: stageFont});
// legend
shapes.push({type: 'rect', xref: 'paper', yref: 'paper', x0: px(27), x1: px(54), y0: py(17), y1: py(9), fillcolor: TEAL, line: {width: 0}});
shapes.push({type: 'rect', xref: 'paper', yref: 'paper', x0: px(142), x1: px(169), y0: py(17), y1: py(9), fillcolor: PEACH, line: {width: 0}});
ann.push(note(59, 13, 'Filter ON', {xanchor: 'left', font: {family: DJ, size: 10, color: '#222'}}));
ann.push(note(176, 13, 'Filter OFF', {xanchor: 'left', font: {family: DJ, size: 10, color: '#222'}}));

// in-plot notes
ann.push(note(741, 87, 'PrM time out', {font: {family: DJ, size: 11.5, color: '#111'}}));
ann.push(note(962, 88, '?', {font: {family: DJ, size: 11.5, color: '#111'}}));
ann.push(note(1172, 81, '(Lane 1)', {xanchor: 'right', font: {family: LS, size: 8, color: '#999'}}));
ann.push(note(1170, 300, '(Lane 2)', {xanchor: 'right', font: {family: LS, size: 8, color: '#999'}}));
ann.push(note(17.5, 352, '»', {font: {family: DJ, size: 8, color: '#888'}}));

// value labels
const gAnchor = ['right','left','left','left','right','center','left','left','left','left','left','left','left'];
const gDx = [-3, 4, 5, 5, -2, 0, 3, 3, 3, 3, 2, 2, 3];
const gDy = [-7, 3, 3, 3, 14, 17, 2, 2, 3, 2, 3, 3, 2];
const pAnchor = ['right','left','left','left','right','left','left','left','left','left','left','left','left'];
const pDx = [-2, 4, 5, 4, -1, 3, 3, 3, 3, 3, 2, 2, 2];
const pDy = [10, 3, 3, 3, 11, 3, 3, 3, 3, 3, 3, 3, 3];
cursorTimes.forEach((t, i) => {
  ann.push({xref: 'x', yref: 'y', x: T(t), y: tauAtCursor[i], text: tauAtCursor[i] + ' s', showarrow: false,
    xanchor: gAnchor[i], yanchor: 'middle', xshift: gDx[i], yshift: gDy[i], bgcolor: '#167f3c', borderpad: 1.5,
    font: {family: LS, size: 8, color: '#fff'}});
  ann.push({xref: 'x', yref: 'y4', x: T(t), y: ppbAtCursor[i], text: ppbAtCursor[i] + ' ppb', showarrow: false,
    xanchor: pAnchor[i], yanchor: 'middle', xshift: pDx[i], yshift: pDy[i], bgcolor: '#1ba1d8', borderpad: 1.5,
    font: {family: LS, size: 8.5, color: '#fff'}});
});
// time bar row
const tb = {family: LS, size: 7.5, color: '#2f7d57'};
ann.push(note(32, 537, '<b>↓</b>', {font: {family: DJ, size: 10, color: '#1d6b4a'}}));
ann.push(note(40, 537, '6/5/2022 5:31 PM  <u>CDT</u>', {xanchor: 'left', font: tb}));
ann.push(note(1174, 537, '7/3/2022 1:30 PM  <u>CDT</u>', {xanchor: 'right', font: tb}));
ann.push(note(526, 540, '◀◀', {font: {family: DJ, size: 7, color: '#1d6b4a'}}));
ann.push(note(541, 540, '◀', {font: {family: DJ, size: 7, color: '#1d6b4a'}}));
ann.push(note(567, 539, '27.8 days', {font: {family: LS, size: 8, color: '#2f7d57'}}));
ann.push(note(597, 539, '▶', {font: {family: DJ, size: 8, color: '#1d6b4a'}}));
ann.push(note(613, 539, '▶▶', {font: {family: DJ, size: 7, color: '#1d6b4a'}}));
ann.push(note(630, 539, '▶|', {font: {family: DJ, size: 7, color: '#1d6b4a'}}));
// cursor labels (on top)
cursorTimes.forEach((t, i) => {
  ann.push({xref: 'x', yref: 'paper', x: T(t), y: py(cursorRow[i]), text: cursorText[i], showarrow: false, xshift: cursorDx[i],
    xanchor: 'center', yanchor: 'middle', bgcolor: '#e5edea', bordercolor: '#cbd9d2', borderwidth: 1, borderpad: 1,
    font: {family: LS, size: 8, color: '#3a7f5e'}});
});
// navigator
shapes.push({type: 'rect', xref: 'paper', yref: 'paper', x0: px(40), x1: px(1160), y0: py(561), y1: py(551), fillcolor: '#fff', line: {color: '#cccccc', width: 1}});
shapes.push({type: 'rect', xref: 'paper', yref: 'paper', x0: px(65), x1: px(1095), y0: py(560), y1: py(552), fillcolor: 'rgba(0,0,0,0)', line: {color: '#1d6b4a', width: 2}});
shapes.push({type: 'rect', xref: 'paper', yref: 'paper', x0: px(63), x1: px(67), y0: py(562.5), y1: py(550), fillcolor: '#e8efe9', line: {color: '#1d6b4a', width: 1.5}});
shapes.push({type: 'rect', xref: 'paper', yref: 'paper', x0: px(1093), x1: px(1097), y0: py(562.5), y1: py(550), fillcolor: '#e8efe9', line: {color: '#1d6b4a', width: 1.5}});
shapes.push({type: 'rect', xref: 'paper', yref: 'paper', x0: px(1165), x1: px(1172), y0: py(560), y1: py(552), fillcolor: '#2f7d57', line: {width: 0}});
ann.push(note(32, 580, '<b>↑</b>', {font: {family: DJ, size: 10, color: '#1d6b4a'}}));
ann.push(note(40, 580, '6/4/2022', {xanchor: 'left', font: tb}));
ann.push(note(605, 580, '1 month', {font: tb}));
ann.push(note(1174, 580, '7/5/2022', {xanchor: 'right', font: tb}));

const DAY = 86400000;
const layout = {
  width: W, height: H, margin: {l: 0, r: 0, t: 0, b: 0, pad: 0},
  paper_bgcolor: '#fff', plot_bgcolor: 'rgba(0,0,0,0)', showlegend: false,
  xaxis: {domain: [px(84.5), px(1173)], anchor: 'y4', type: 'date', range: [viewStart, viewEnd],
    tickmode: 'array', tickvals: axisTicks.map(T), tickformat: '%b %-d', showgrid: false, zeroline: false,
    showline: true, linecolor: '#e3e3e3', ticks: 'outside', ticklen: 3, tickcolor: '#dddddd',
    tickfont: {family: LS, size: 9.5, color: '#9a9a9a'}, automargin: false},
  yaxis: {domain: [py(290), py(75)], range: [-0.000707, 0.01073], anchor: 'free', position: px(45), side: 'left',
    tickvals: tauTicks, tickformat: '.3f', showline: true, linecolor: '#2e8b57', showgrid: false, zeroline: false, ticks: '',
    tickfont: {family: LS, size: 8, color: '#3c9a66'}, automargin: false},
  yaxis2: {overlaying: 'y', range: [-0.001173, 0.01779], anchor: 'free', position: px(64.7), side: 'left',
    tickvals: sigTicks, tickformat: '.3f', showline: true, linecolor: '#d9534f', showgrid: false, zeroline: false, ticks: '',
    tickfont: {family: LS, size: 8, color: '#d9534f'}, automargin: false},
  yaxis3: {overlaying: 'y', range: [-0.00126, 0.0191], anchor: 'x', side: 'left',
    tickvals: sigTicks, tickformat: '.3f', showline: true, linecolor: '#4a64d6', showgrid: false, zeroline: false, ticks: '',
    tickfont: {family: LS, size: 8, color: '#4a64d6'}, automargin: false},
  yaxis4: {domain: [py(510), py(295)], range: [-6.54, 107.8], anchor: 'x', tickvals: ppbTicks, showline: false,
    showgrid: false, zeroline: false, ticks: '', tickfont: {family: LS, size: 9, color: '#3aa9da'}, automargin: false},
  xaxis2: {domain: [px(14), 1], anchor: 'y5', type: 'date', range: bandRange, visible: false},
  yaxis5: {domain: [py(68), py(30)], anchor: 'x2', range: [0, 1], visible: false},
  xaxis3: {domain: [px(40), px(1160)], anchor: 'y6', type: 'date', range: navRange, tickformat: '%b %-d',
    tick0: '2022-06-06', dtick: 2 * DAY, showgrid: false, zeroline: false, showline: false,
    ticks: 'outside', ticklen: 3, tickcolor: '#cccccc', tickfont: {family: LS, size: 7, color: '#a5a5a5'}, automargin: false},
  yaxis6: {domain: [py(561), py(551)], anchor: 'x3', range: [0, 1], visible: false},
  shapes: shapes, annotations: ann
};

Plotly.newPlot('chart', traces, layout, {displayModeBar: false, staticPlot: true});
</script></body></html>
